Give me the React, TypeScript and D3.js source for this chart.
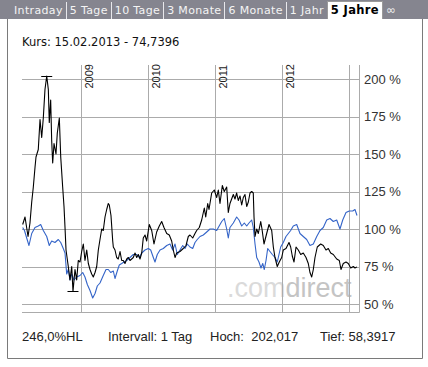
import { useEffect, useRef } from 'react';
import * as d3 from 'd3';

// time is a decimal year, value is % of start
const stockData: [number, number][] = [
  [2008.135, 103], [2008.17, 108], [2008.215, 95], [2008.244, 104], [2008.27, 118],
  [2008.294, 128], [2008.319, 141], [2008.334, 148], [2008.368, 153], [2008.394, 173],
  [2008.419, 161], [2008.443, 174], [2008.468, 193], [2008.494, 202.017], [2008.518, 193],
  [2008.532, 171], [2008.553, 186], [2008.568, 159], [2008.583, 144], [2008.603, 157],
  [2008.632, 150], [2008.652, 164], [2008.682, 174], [2008.703, 148], [2008.732, 128],
  [2008.752, 115], [2008.767, 101], [2008.782, 86], [2008.816, 75], [2008.841, 66],
  [2008.867, 75], [2008.886, 58.3917], [2008.916, 73], [2008.941, 66], [2008.965, 79],
  [2008.991, 78], [2009.016, 85], [2009.04, 90], [2009.065, 79], [2009.091, 86],
  [2009.115, 77], [2009.14, 73], [2009.165, 70], [2009.189, 68], [2009.215, 71],
  [2009.24, 75], [2009.264, 86], [2009.289, 93], [2009.315, 100], [2009.338, 99],
  [2009.364, 108], [2009.389, 113], [2009.413, 117], [2009.428, 116], [2009.453, 109],
  [2009.479, 92], [2009.488, 88], [2009.513, 86], [2009.538, 81], [2009.562, 80],
  [2009.588, 85], [2009.613, 79], [2009.637, 79], [2009.662, 77], [2009.688, 80],
  [2009.712, 81], [2009.737, 79], [2009.762, 80], [2009.786, 81], [2009.812, 84],
  [2009.837, 81], [2009.861, 83], [2009.886, 80], [2009.912, 84], [2009.935, 94],
  [2009.961, 96], [2009.986, 92], [2010.025, 103], [2010.061, 99], [2010.095, 90],
  [2010.135, 98], [2010.174, 102], [2010.21, 105], [2010.244, 101], [2010.285, 97],
  [2010.323, 96], [2010.359, 92], [2010.383, 86], [2010.409, 81], [2010.434, 84],
  [2010.483, 85], [2010.532, 87], [2010.573, 89], [2010.607, 95], [2010.632, 96],
  [2010.673, 94], [2010.707, 97], [2010.732, 99], [2010.771, 101], [2010.807, 106],
  [2010.846, 114], [2010.867, 108], [2010.897, 117], [2010.916, 113], [2010.956, 124],
  [2010.995, 126], [2011.031, 121], [2011.055, 126], [2011.08, 117], [2011.115, 129],
  [2011.144, 125], [2011.18, 128], [2011.204, 111], [2011.229, 117], [2011.279, 123],
  [2011.304, 120], [2011.329, 124], [2011.353, 119], [2011.379, 122], [2011.404, 116],
  [2011.428, 121], [2011.453, 123], [2011.479, 115], [2011.503, 118], [2011.528, 124],
  [2011.553, 125], [2011.577, 124], [2011.588, 108], [2011.603, 95], [2011.628, 100],
  [2011.652, 97], [2011.688, 105], [2011.707, 100], [2011.737, 90], [2011.777, 97],
  [2011.812, 103], [2011.852, 99], [2011.876, 88], [2011.901, 81], [2011.935, 75],
  [2011.965, 78], [2012.001, 81], [2012.025, 86], [2012.065, 87], [2012.11, 91],
  [2012.135, 88], [2012.159, 82], [2012.185, 78], [2012.215, 88], [2012.249, 86],
  [2012.285, 83], [2012.323, 84], [2012.364, 81], [2012.398, 77], [2012.423, 71],
  [2012.449, 68], [2012.473, 73], [2012.498, 81], [2012.532, 88], [2012.583, 90],
  [2012.622, 89], [2012.662, 86], [2012.697, 87], [2012.732, 84], [2012.771, 83],
  [2012.822, 80], [2012.861, 79], [2012.886, 73], [2012.92, 77], [2012.961, 78],
  [2012.995, 77], [2013.031, 74], [2013.07, 75], [2013.095, 74], [2013.125, 74.7396],
];

const indexData: [number, number][] = [
  [2008.135, 101], [2008.162, 99], [2008.195, 94], [2008.229, 89], [2008.27, 97],
  [2008.319, 101], [2008.368, 102], [2008.404, 103], [2008.443, 99], [2008.494, 95],
  [2008.532, 89], [2008.568, 92], [2008.617, 91], [2008.667, 93], [2008.703, 91],
  [2008.741, 87], [2008.767, 84], [2008.792, 70], [2008.816, 73], [2008.841, 66],
  [2008.867, 70], [2008.901, 66], [2008.941, 68], [2008.991, 69], [2009.031, 71],
  [2009.065, 68], [2009.1, 63], [2009.14, 59], [2009.18, 54], [2009.215, 57],
  [2009.249, 62], [2009.289, 64], [2009.338, 69], [2009.379, 73], [2009.413, 73],
  [2009.449, 71], [2009.488, 72], [2009.513, 67], [2009.547, 72], [2009.577, 76],
  [2009.613, 77], [2009.647, 78], [2009.688, 79], [2009.737, 81], [2009.786, 83],
  [2009.837, 83], [2009.876, 81], [2009.912, 84], [2009.961, 86], [2010.01, 87],
  [2010.046, 86], [2010.085, 81], [2010.11, 78], [2010.144, 83], [2010.185, 86],
  [2010.234, 87], [2010.285, 89], [2010.334, 90], [2010.374, 86], [2010.409, 90],
  [2010.443, 83], [2010.483, 86], [2010.524, 89], [2010.558, 87], [2010.592, 90],
  [2010.632, 88], [2010.673, 87], [2010.707, 91], [2010.741, 93], [2010.782, 95],
  [2010.831, 96], [2010.882, 98], [2010.931, 100], [2010.98, 100], [2011.031, 99],
  [2011.055, 101], [2011.106, 105], [2011.144, 107], [2011.18, 100], [2011.204, 94],
  [2011.229, 101], [2011.279, 104], [2011.329, 108], [2011.364, 106], [2011.404, 102],
  [2011.443, 104], [2011.479, 102], [2011.513, 104], [2011.553, 106], [2011.577, 101],
  [2011.603, 90], [2011.628, 81], [2011.662, 78], [2011.692, 74], [2011.718, 77],
  [2011.741, 73], [2011.767, 79], [2011.792, 87], [2011.826, 85], [2011.861, 83],
  [2011.901, 81], [2011.935, 78], [2011.986, 88], [2012.025, 91], [2012.065, 95],
  [2012.1, 97], [2012.135, 99], [2012.174, 102], [2012.225, 103], [2012.274, 97],
  [2012.323, 95], [2012.374, 93], [2012.423, 89], [2012.473, 90], [2012.524, 95],
  [2012.573, 99], [2012.622, 101], [2012.673, 106], [2012.722, 107], [2012.771, 105],
  [2012.822, 106], [2012.871, 100], [2012.912, 106], [2012.961, 111], [2013.01, 112],
  [2013.061, 112], [2013.095, 113], [2013.125, 109],
];

const tabs = ['Intraday', '5 Tage', '10 Tage', '3 Monate', '6 Monate', '1 Jahr', '5 Jahre', '∞'];
const activeTab = '5 Jahre';
const yTicks = [50, 75, 100, 125, 150, 175, 200];
const yearTicks = [2009, 2010, 2011, 2012, 2013];
const yearLabels = ['2009', '2010', '2011', '2012'];
const headline = 'Kurs: 15.02.2013 - 74,7396';
const footer = ['246,0%HL', 'Intervall: 1 Tag', 'Hoch:  202,017', 'Tief: 58,3917'];

export default function App() {
  const svgRef = useRef<SVGSVGElement>(null);

  useEffect(() => {
    if (!svgRef.current) return;
    const svg = d3.select(svgRef.current);
    svg.selectAll('*').remove();

    const width = 428;
    const height = 367;
    const left = 22;
    const right = 359;
    const top = 65;
    const bottom = 312;

    const x = d3.scaleLinear().domain([2008.125, 2013.125]).range([left, 357]);
    const y = d3.scaleLinear().domain([50, 200]).range([304, 79]);
    const px = (v: number) => Math.round(v) + 0.5;

    svg.attr('width', width).attr('height', height).attr('viewBox', `0 0 ${width} ${height}`);

    svg.append('rect').attr('width', width).attr('height', height).attr('fill', '#fff');

    // tab bar
    svg.append('rect').attr('width', width).attr('height', 19).attr('fill', '#85858f');
    const tabFont = '"DejaVu Sans", Verdana, sans-serif';
    let cx = 10;
    tabs.forEach((name, i) => {
      const active = name === activeTab;
      const t = svg.append('text')
        .attr('x', cx + 4)
        .attr('y', 14)
        .attr('font-family', tabFont)
        .attr('font-size', active || name === '∞' ? 11.5 : 11)
        .attr('letter-spacing', 0.35)
        .attr('font-weight', active ? 'bold' : 'normal')
        .attr('fill', active ? '#000' : '#f4f4f4')
        .text(name);
      const w = (t.node() as SVGTextElement).getComputedTextLength();
      const end = cx + w + 7;
      if (active) {
        svg.insert('path', 'text')
          .attr('d', `M${px(cx)},19 V1.5 H${px(end)} V19`)
          .attr('fill', '#fff')
          .attr('stroke', '#9a9a9a');
      } else if (i < tabs.length - 1 && tabs[i + 1] !== activeTab) {
        svg.append('line')
          .attr('x1', px(end)).attr('x2', px(end))
          .attr('y1', 2).attr('y2', 19)
          .attr('stroke', '#e8e8ec');
      }
      cx = end;
    });

    // panel border
    svg.append('path')
      .attr('d', `M7.5,19 V358.5 H422.5 V19`)
      .attr('fill', 'none')
      .attr('stroke', '#7a7a7a');

    svg.append('text')
      .attr('x', 22).attr('y', 46)
      .attr('font-family', tabFont)
      .attr('font-size', 11.5)
      .attr('fill', '#111')
      .text(headline);

    // watermark
    const wm = svg.append('text')
      .attr('x', 227).attr('y', 297)
      .attr('font-family', '"Liberation Sans", Arial, sans-serif')
      .attr('font-size', 27);
    wm.append('tspan').attr('fill', '#dadada').text('.com');
    wm.append('tspan').attr('fill', '#c4c4c4').text('direct');

    // grid
    const grid = svg.append('g').attr('stroke', '#ababab').attr('stroke-width', 1);
    yTicks.forEach((v) => {
      grid.append('line')
        .attr('x1', left).attr('x2', right + 0.5)
        .attr('y1', px(y(v))).attr('y2', px(y(v)));
    });
    grid.append('line')
      .attr('x1', left).attr('x2', right + 0.5)
      .attr('y1', px(bottom)).attr('y2', px(bottom));
    yearTicks.forEach((yr) => {
      grid.append('line')
        .attr('x1', px(x(yr))).attr('x2', px(x(yr)))
        .attr('y1', top).attr('y2', bottom + 0.5);
    });
    grid.append('line')
      .attr('x1', px(right)).attr('x2', px(right))
      .attr('y1', top).attr('y2', bottom + 0.5);

    const labelFont = '"Liberation Sans", Arial, sans-serif';
    yearLabels.forEach((lab) => {
      const gx = Math.round(x(+lab));
      svg.append('text')
        .attr('transform', `translate(${gx + 11.5},88.5) rotate(-90)`)
        .attr('font-family', labelFont)
        .attr('font-size', 11)
        .attr('fill', '#222')
        .text(lab);
    });

    yTicks.forEach((v) => {
      svg.append('text')
        .attr('x', 364)
        .attr('y', y(v) + 4.5)
        .attr('font-family', labelFont)
        .attr('font-size', 13)
        .attr('fill', '#333')
        .text(`${v} %`);
    });

    // series
    const line = d3.line<[number, number]>()
      .x((d) => x(d[0]))
      .y((d) => y(d[1]));

    svg.append('path')
      .datum(indexData)
      .attr('fill', 'none')
      .attr('stroke', '#3464c8')
      .attr('stroke-width', 1.1)
      .attr('stroke-linejoin', 'round')
      .attr('d', line);

    svg.append('path')
      .datum(stockData)
      .attr('fill', 'none')
      .attr('stroke', '#000')
      .attr('stroke-width', 1.1)
      .attr('stroke-linejoin', 'round')
      .attr('d', line);

    // high / low markers
    const hi = stockData.reduce((a, b) => (b[1] > a[1] ? b : a));
    const lo = stockData.reduce((a, b) => (b[1] < a[1] ? b : a));
    [hi, lo].forEach((d) => {
      svg.append('line')
        .attr('x1', x(d[0]) - 5.5).attr('x2', x(d[0]) + 5.5)
        .attr('y1', px(y(d[1]))).attr('y2', px(y(d[1])))
        .attr('stroke', '#000');
    });

    // footer
    const fx = [22, 108, 210, 320];
    footer.forEach((txt, i) => {
      svg.append('text')
        .attr('x', fx[i]).attr('y', 341)
        .attr('font-family', labelFont)
        .attr('font-size', 13)
        .attr('fill', '#222')
        .style('white-space', 'pre')
        .text(txt);
    });
  }, []);

  return (
    <svg
      ref={svgRef}
      style={{ position: 'absolute', left: 0, top: 0, display: 'block' }}
    />
  );
}
